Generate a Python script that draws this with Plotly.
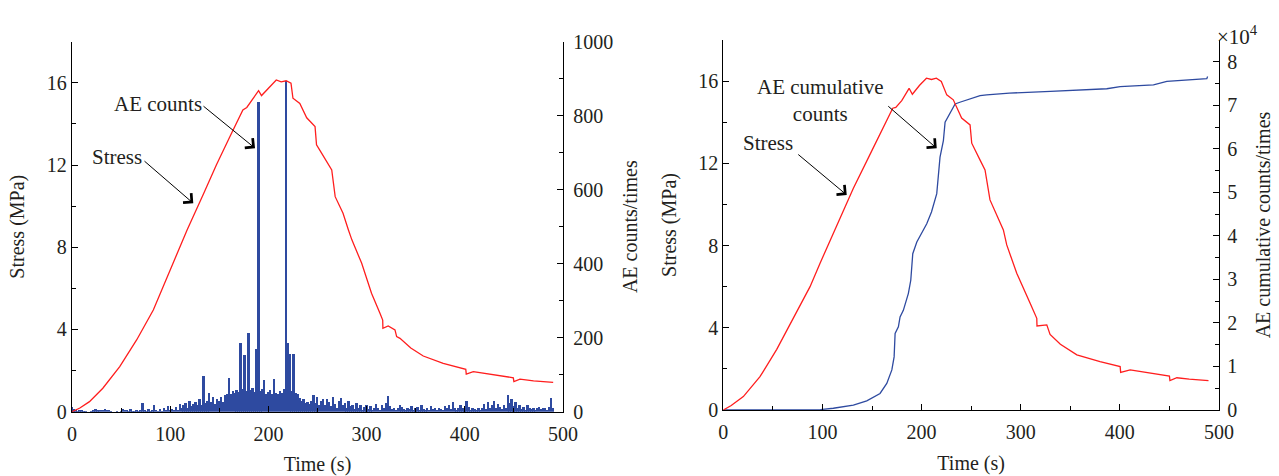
import plotly.graph_objects as go

# ---------------- data ----------------
# Left panel: AE counts sampled every 2 s (0..490 s)
ae_time = [2 * i for i in range(246)]
ae_counts = [
    14, 8, 4, 2, 5, 3, 2, 1, 0, 0, 2, 6, 7, 6, 6, 5, 6, 7, 6, 5, 1, 0, 0, 1, 0,
    2, 8, 3, 5, 1, 7, 2, 1, 4, 2, 6, 24, 3, 1, 8, 2, 5, 18, 3, 2, 9, 1, 12, 4, 16,
    3, 8, 5, 14, 4, 22, 10, 18, 25, 12, 30, 16, 22, 28, 18, 35, 20, 96, 24, 30, 52, 28, 40, 22, 34,
    30, 40, 28, 45, 50, 93, 48, 58, 52, 60, 55, 187, 62, 153, 58, 214, 60, 66, 55, 169, 838, 58, 62, 87, 50,
    55, 60, 48, 90, 52, 50, 58, 52, 62, 895, 186, 156, 58, 158, 52, 48, 38, 30, 35, 25, 28, 22, 30, 45, 24,
    40, 18, 30, 36, 20, 35, 28, 15, 40, 22, 12, 30, 38, 18, 25, 10, 30, 15, 20, 8, 25, 12, 18, 6, 14,
    20, 8, 16, 5, 12, 22, 10, 6, 18, 12, 25, 43, 15, 8, 12, 6, 10, 20, 14, 8, 5, 12, 8, 15, 6,
    10, 14, 5, 20, 8, 4, 12, 6, 15, 8, 10, 5, 12, 8, 6, 15, 10, 18, 8, 26, 12, 6, 10, 18, 12,
    8, 30, 14, 5, 10, 8, 4, 12, 6, 10, 22, 8, 26, 12, 18, 30, 10, 22, 14, 8, 20, 12, 47, 24, 36,
    15, 28, 10, 20, 8, 14, 6, 18, 10, 8, 12, 6, 10, 14, 8, 12, 10, 6, 14, 38, 12,
]

# Left panel: stress (MPa)
stress_l_time = [0, 8, 17.8, 31.4, 48.6, 65.8, 82.8, 100, 117.2, 134.2, 147, 160, 174, 178,
                 184, 190, 193, 200, 208, 213, 218, 223, 225, 232, 239, 247.5, 249, 254, 264.5,
                 268, 276, 281.5, 285, 295, 305, 313.6, 316.4, 316.6, 322, 328.9, 330.6, 334,
                 345, 357.7, 378, 401, 401.5, 408.7, 430, 449.4, 450, 456.2, 470, 490]
stress_l = [0, 0.18, 0.49, 1.14, 2.19, 3.49, 4.95, 6.9, 8.84, 10.63, 12.0, 13.3,
            14.68, 14.8, 15.2, 15.62, 15.38, 15.75, 16.14, 16.05, 16.1, 15.98, 15.25, 15.0, 14.3,
            13.87, 12.98, 12.59, 11.76, 10.46, 9.65, 8.84, 8.36, 7.22, 5.76, 4.79, 4.46, 4.06,
            4.17, 3.98, 3.65, 3.57, 3.1, 2.71, 2.35, 2.06, 1.83, 1.95, 1.8, 1.65, 1.46, 1.58, 1.5, 1.43]

# Right panel: stress (MPa)
stress_r_time = [0, 8, 20.2, 37, 53.9, 70.6, 87.5, 97.6, 114.4, 131.2, 150, 170.9, 174, 180,
                 187.4, 190.7, 198, 204.9, 210, 214.9, 219.9, 225.4, 232, 238.6, 240.4, 248.9,
                 250.6, 258.9, 264, 269, 282.5, 285.9, 296, 309.5, 316.2, 316.4, 326.3, 329.6,
                 340, 356.6, 380, 400.3, 400.8, 410.4, 430, 450, 450.5, 457.5, 470, 489.4]
stress_r = [0, 0.22, 0.65, 1.62, 2.95, 4.5, 6.0, 7.14, 9.0, 10.79, 12.63, 14.68, 14.72, 15.05,
            15.65, 15.36, 15.8, 16.14, 16.08, 16.14, 15.98, 15.33, 15.09, 14.44, 14.2, 13.87,
            12.98, 12.17, 11.68, 10.22, 8.76, 8.03, 6.65, 5.19, 4.46, 4.09, 4.14, 3.68, 3.2,
            2.68, 2.35, 2.11, 1.83, 1.95, 1.8, 1.65, 1.43, 1.57, 1.5, 1.43]

# Right panel: AE cumulative counts (x10^4)
cum_time = [0, 50, 98, 111, 131.2, 144.7, 158.1, 164.9, 170, 172.3, 173.3, 176.6, 178.3, 181.6,
            186.7, 189.1, 191.1, 195.2, 198.5, 201.8, 205.2, 210, 215.3, 218.6, 222, 223.7, 228.8,
            233.8, 238.6, 248.9, 259, 265.7, 288.5, 330, 386.8, 400.3, 433.9, 447.4, 470, 487.7,
            488.5]
cum_counts = [0, 0.005, 0.01, 0.04, 0.11, 0.21, 0.38, 0.61, 0.92, 1.22, 1.76, 1.91, 2.14, 2.29,
              2.68, 2.98, 3.59, 3.86, 4.01, 4.13, 4.28, 4.55, 4.97, 5.81, 6.19, 6.61, 6.84, 7.03,
              7.07, 7.14, 7.22, 7.24, 7.28, 7.32, 7.38, 7.43, 7.47, 7.55, 7.58, 7.61, 7.66]

# ---------------- style ----------------
W, H = 1279, 476
RED = "rgb(255,30,30)"
BLUE = "rgb(46,74,160)"
FONT = "Liberation Serif"
TXT = "#231f20"


def px_x(p):
    return p / W


def px_y(p):
    return 1 - p / H


fig = go.Figure()

# left panel
fig.add_trace(go.Bar(x=ae_time, y=ae_counts, width=2, marker=dict(color=BLUE, line=dict(width=0)),
                     xaxis="x", yaxis="y", showlegend=False))
fig.add_trace(go.Scatter(x=stress_l_time, y=stress_l, mode="lines", line=dict(color=RED, width=1.3),
                         xaxis="x", yaxis="y2", showlegend=False))
# right panel
fig.add_trace(go.Scatter(x=cum_time, y=cum_counts, mode="lines", line=dict(color=BLUE, width=1.3),
                         xaxis="x2", yaxis="y3", showlegend=False))
fig.add_trace(go.Scatter(x=stress_r_time, y=stress_r, mode="lines", line=dict(color=RED, width=1.3),
                         xaxis="x2", yaxis="y4", showlegend=False))

axis_common = dict(showline=True, linecolor="black", linewidth=1.3, ticks="inside", ticklen=6,
                   tickwidth=1.2, tickcolor="black", showgrid=False, zeroline=False,
                   automargin=False,
                   tickfont=dict(family=FONT, size=20, color=TXT),
                   title_font=dict(family=FONT, size=20, color=TXT))


def minor(d):
    return dict(ticks="inside", dtick=d, ticklen=3.5, tickwidth=1.2, tickcolor="black")


fig.update_layout(
    width=W, height=H,
    margin=dict(l=0, r=0, t=0, b=0),
    paper_bgcolor="white", plot_bgcolor="white",
    bargap=0,
    xaxis=dict(axis_common, domain=[px_x(72), px_x(563)], range=[0, 500], dtick=100,
               minor=minor(50), anchor="y2", ticklabelstandoff=4,
               title=dict(text="Time (s)", standoff=13)),
    yaxis=dict(axis_common, domain=[px_y(411.7), px_y(41.7)], range=[0, 1000], dtick=200,
               side="right", anchor="x", minor=minor(100), ticklabelstandoff=5,
               title=dict(text="AE counts/times", standoff=10)),
    yaxis2=dict(axis_common, domain=[px_y(411.7), px_y(41.7)], range=[0, 18], dtick=4,
                side="left", overlaying="y", anchor="x", minor=minor(2),
                title=dict(text="Stress (MPa)", standoff=16)),
    xaxis2=dict(axis_common, domain=[px_x(723.3), px_x(1219)], range=[0, 500], dtick=100,
                minor=minor(50), anchor="y4", ticklabelstandoff=4,
                title=dict(text="Time (s)", standoff=13)),
    yaxis3=dict(axis_common, domain=[px_y(410), px_y(40)], range=[0, 8.5], dtick=1,
                side="right", anchor="x2", minor=minor(0.5), ticklabelstandoff=3,
                title=dict(text="AE cumulative counts/times", standoff=19)),
    yaxis4=dict(axis_common, domain=[px_y(410), px_y(40)], range=[0, 18], dtick=4,
                side="left", overlaying="y3", anchor="x2", minor=minor(2),
                title=dict(text="Stress (MPa)", standoff=16)),
)

ann_font = dict(family=FONT, size=21, color=TXT)
arrow = dict(showarrow=True, arrowhead=4, arrowsize=2.4, arrowwidth=1, arrowcolor="black")
annotations = [
    # left panel labels
    dict(text="AE counts", x=88, y=14.97, xref="x", yref="y2", showarrow=False, font=ann_font),
    dict(arrow, text="", x=186.4, y=12.82, ax=132.4, ay=14.92, xref="x", yref="y2",
         axref="x", ayref="y2"),
    dict(text="Stress", x=46.3, y=12.39, xref="x", yref="y2", showarrow=False, font=ann_font),
    dict(arrow, text="", x=123.5, y=10.14, ax=72.3, ay=12.25, xref="x", yref="y2",
         axref="x", ayref="y2"),
    # right panel labels
    dict(text="AE cumulative<br>counts", x=98, y=15.04, xref="x2", yref="y4", showarrow=False,
         font=ann_font, align="center"),
    dict(arrow, text="", x=215.3, y=12.73, ax=164.9, ay=14.84, xref="x2", yref="y4",
         axref="x2", ayref="y4"),
    dict(text="Stress", x=44.6, y=12.98, xref="x2", yref="y4", showarrow=False, font=ann_font),
    dict(arrow, text="", x=124.5, y=10.46, ax=74.1, ay=12.49, xref="x2", yref="y4",
         axref="x2", ayref="y4"),
    # multiplier
    dict(text="×10<sup>4</sup>", x=px_x(1215), y=px_y(20), xref="paper", yref="paper",
         xanchor="left", showarrow=False, font=ann_font),
]
fig.update_layout(annotations=annotations)

fig.write_html("out.html")
